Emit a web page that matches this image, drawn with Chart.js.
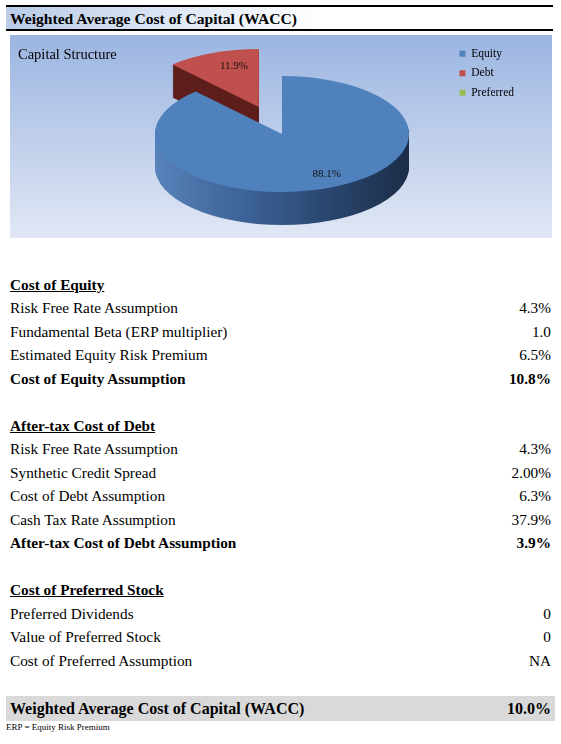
<!DOCTYPE html>
<html>
<head>
<meta charset="utf-8">
<title>WACC</title>
<script src="https://cdn.jsdelivr.net/npm/chart.js@4.4.1/dist/chart.umd.min.js"></script>
<style>
  body { margin: 0; background: #fff; font-family: "Liberation Serif", "Times New Roman", serif; color: #000; }
  #page { position: relative; width: 561px; height: 744px; overflow: hidden; }
  #titlebar {
    position: absolute; left: 6px; top: 5px; width: 543px; height: 22px; padding-left: 4px;
    border-top: 2px solid #000; border-bottom: 2px solid #000;
    background: linear-gradient(to right, #b9cbe8 0%, #ffffff 58%);
    font-weight: bold; font-size: 15.6px; line-height: 23px;
  }
  #chartbox {
    position: absolute; left: 10px; top: 35px; width: 542px; height: 203px;
    background: linear-gradient(#9bb5e1, #e1e7f4);
  }
  .row { position: absolute; left: 10px; width: 541px; height: 23.5px; line-height: 23.5px; font-size: 15.3px; }
  .row .v { position: absolute; right: 0; top: 0; }
  .row.head { font-weight: bold; text-decoration: underline; }
  .row.bold { font-weight: bold; }
  #wacc {
    position: absolute; left: 6px; top: 696px; width: 545px; height: 25px; padding-left: 4px;
    background: #d9d9d9; font-weight: bold; font-size: 16px; line-height: 25px;
  }
  #wacc .v { position: absolute; right: 4px; top: 0; }
  #note { position: absolute; left: 6px; top: 722px; font-size: 9px; line-height: 11px; }
</style>
</head>
<body>
<div id="page">
  <div id="titlebar">Weighted Average Cost of Capital (WACC)</div>
  <div id="chartbox"><canvas id="pie" width="542" height="203"></canvas></div>
  <div id="rows"></div>
  <div id="wacc">Weighted Average Cost of Capital (WACC)<span class="v">10.0%</span></div>
  <div id="note">ERP = Equity Risk Premium</div>
</div>
<script>
// capital structure (percent of total capital)
var capLabels = ['Equity', 'Debt', 'Preferred'];
var capShares = [88.1, 11.9, 0];
var capColors = ['#4f81bd', '#c0504d', '#9bbb59'];

// table sections
var equityItems = ['Risk Free Rate Assumption', 'Fundamental Beta (ERP multiplier)', 'Estimated Equity Risk Premium', 'Cost of Equity Assumption'];
var equityValues = ['4.3%', '1.0', '6.5%', '10.8%'];
var debtItems = ['Risk Free Rate Assumption', 'Synthetic Credit Spread', 'Cost of Debt Assumption', 'Cash Tax Rate Assumption', 'After-tax Cost of Debt Assumption'];
var debtValues = ['4.3%', '2.00%', '6.3%', '37.9%', '3.9%'];
var prefItems = ['Preferred Dividends', 'Value of Preferred Stock', 'Cost of Preferred Assumption'];
var prefValues = ['0', '0', 'NA'];

var sections = [
  { title: 'Cost of Equity', items: equityItems, values: equityValues, boldLast: true },
  { title: 'After-tax Cost of Debt', items: debtItems, values: debtValues, boldLast: true },
  { title: 'Cost of Preferred Stock', items: prefItems, values: prefValues, boldLast: false }
];

// lay the table rows out on a fixed 23.5px grid
var rowsEl = document.getElementById('rows');
var rowTop = 272.9, rowH = 23.5;
sections.forEach(function(sec) {
  var head = document.createElement('div');
  head.className = 'row head';
  head.style.top = rowTop + 'px';
  head.textContent = sec.title;
  rowsEl.appendChild(head);
  rowTop += rowH;
  sec.items.forEach(function(label, i) {
    var row = document.createElement('div');
    row.className = 'row' + (sec.boldLast && i === sec.items.length - 1 ? ' bold' : '');
    row.style.top = rowTop + 'px';
    row.textContent = label;
    var v = document.createElement('span');
    v.className = 'v';
    v.textContent = sec.values[i];
    row.appendChild(v);
    rowsEl.appendChild(row);
    rowTop += rowH;
  });
  rowTop += rowH;
});

// fake 3D: tilt the library's pie into an ellipse and extrude it downwards
var pie3d = {
  id: 'pie3d',
  afterDatasetsUpdate: function(chart, args, opts) {
    var arcs = chart.getDatasetMeta(0).data;
    chart.$pieBase = { x: arcs[0].x, y: arcs[0].y, r: arcs[0].outerRadius };
    arcs.forEach(function(arc, i) {
      var f = opts.explode[i] || 0;
      var mid = (arc.startAngle + arc.endAngle) / 2;
      arc.x += Math.cos(mid) * f * arc.outerRadius;
      arc.y += Math.sin(mid) * f * arc.outerRadius;
    });
  },
  beforeDatasetsDraw: function(chart, args, opts) {
    var ctx = chart.ctx, base = chart.$pieBase;
    var arcs = chart.getDatasetMeta(0).data;
    var sx = opts.rx / base.r, sy = opts.ry / base.r;

    // side of the equity slice is shaded left to right
    var grad = ctx.createLinearGradient(base.x - base.r, 0, base.x + base.r, 0);
    grad.addColorStop(0, '#5882ba');
    grad.addColorStop(0.35, '#3d6398');
    grad.addColorStop(0.7, '#29446c');
    grad.addColorStop(1, '#1b2d47');
    var sides = [grad, '#5e1f1c', '#5f7536'];

    // back slices first
    var order = arcs.map(function(a, i) { return i; }).sort(function(a, b) { return arcs[a].y - arcs[b].y; });
    ctx.save();
    order.forEach(function(i) {
      var arc = arcs[i];
      if (arc.endAngle - arc.startAngle <= 0) return;
      for (var d = opts.depth; d >= 1; d--) {
        ctx.setTransform(sx, 0, 0, sy, opts.cx - base.x * sx, opts.cy + d - base.y * sy);
        ctx.beginPath();
        ctx.moveTo(arc.x, arc.y);
        ctx.arc(arc.x, arc.y, arc.outerRadius, arc.startAngle, arc.endAngle);
        ctx.closePath();
        ctx.fillStyle = sides[i];
        ctx.fill();
      }
    });
    // top faces are drawn by Chart.js under this transform
    ctx.setTransform(sx, 0, 0, sy, opts.cx - base.x * sx, opts.cy - base.y * sy);
  },
  afterDatasetsDraw: function(chart, args, opts) {
    var ctx = chart.ctx, base = chart.$pieBase;
    ctx.restore();
    var arcs = chart.getDatasetMeta(0).data;
    var data = chart.data.datasets[0].data;
    var total = data.reduce(function(s, v) { return s + v; }, 0);
    var sx = opts.rx / base.r, sy = opts.ry / base.r;
    ctx.save();
    ctx.font = '11px "Liberation Serif", serif';
    ctx.fillStyle = '#111';
    ctx.textAlign = 'center';
    ctx.textBaseline = 'middle';
    arcs.forEach(function(arc, i) {
      if (!data[i]) return;
      var mid = (arc.startAngle + arc.endAngle) / 2;
      var px = arc.x + Math.cos(mid) * 0.75 * arc.outerRadius;
      var py = arc.y + Math.sin(mid) * 0.75 * arc.outerRadius;
      var X = opts.cx + (px - base.x) * sx + opts.labelDx;
      var Y = opts.cy + (py - base.y) * sy;
      ctx.fillText((data[i] / total * 100).toFixed(1) + '%', X, Y);
    });
    ctx.restore();
  }
};

new Chart(document.getElementById('pie').getContext('2d'), {
  type: 'pie',
  data: {
    labels: capLabels,
    datasets: [{
      data: capShares,
      backgroundColor: capColors,
      borderWidth: 0,
      clip: false
    }]
  },
  options: {
    responsive: false,
    animation: false,
    devicePixelRatio: 1,
    layout: { padding: { top: 5, left: 8, right: 28, bottom: 4 } },
    plugins: {
      title: {
        display: true,
        text: 'Capital Structure',
        align: 'start',
        fullSize: false,
        color: '#000',
        font: { family: 'Liberation Serif', size: 14.5, weight: 'normal' },
        padding: { top: 6, bottom: 6 }
      },
      legend: {
        position: 'right',
        align: 'start',
        labels: {
          color: '#000',
          boxWidth: 6,
          boxHeight: 6,
          padding: 8,
          font: { family: 'Liberation Serif', size: 11.5 }
        }
      },
      tooltip: { enabled: false },
      pie3d: { cx: 272, cy: 99, rx: 127, ry: 58, depth: 33, explode: [0, 0.5, 0], labelDx: 10 }
    }
  },
  plugins: [pie3d]
});
</script>
</body>
</html>
